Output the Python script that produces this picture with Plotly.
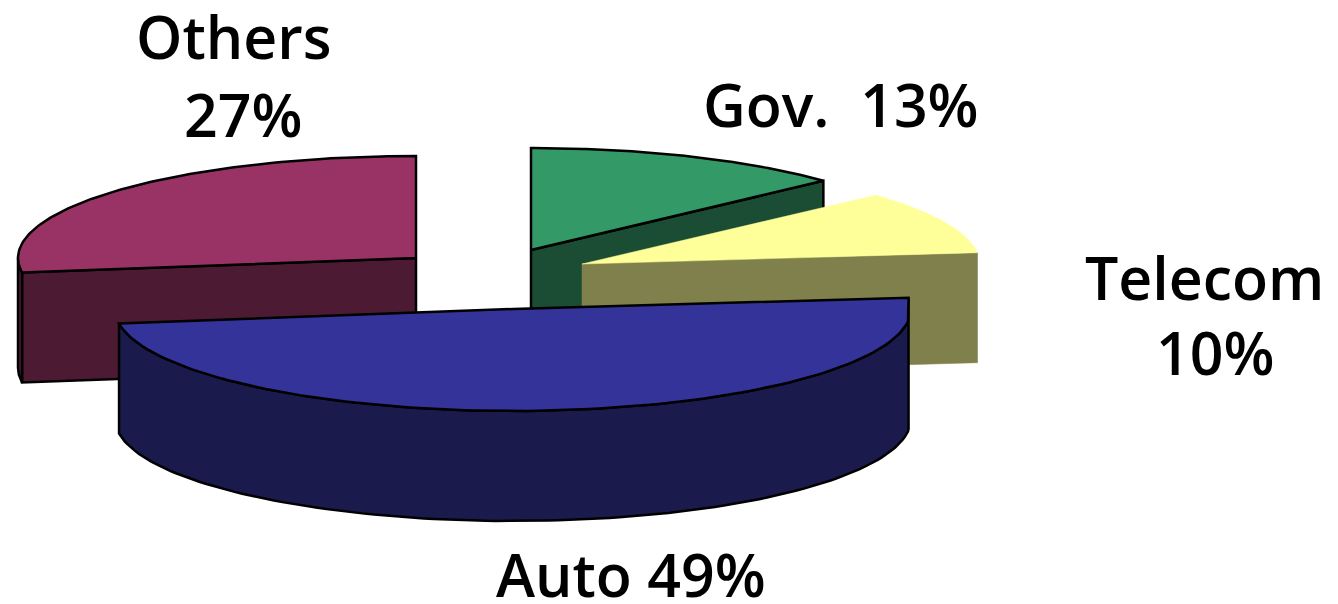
import numpy as np
import plotly.graph_objects as go

# Data
categories = ["Gov.", "Telecom", "Auto", "Others"]
values = [13, 10, 49, 27]

# Style
top_colors = ["#339966", "#FFFF99", "#333399", "#993366"]
side_colors = ["#1A4D33", "#80804D", "#1A1A4D", "#4D1A33"]
outline = [True, False, True, True]

# Projection of the exploded pie onto the page
RX, RY, DEPTH = 398, 102, 110
PIE_X, PIE_Y = 500, 270
explode_x = [31, 82, 13, -84]
explode_y = [-20, -6, 39, -12]
LABEL_FONT = dict(family="Open Sans", size=59, color="black", weight=600)

fractions = np.array(values) / sum(values)
ends = 90 - 360 * np.cumsum(fractions)
starts = ends + 360 * fractions


def arc(cx, cy, a0, a1, dz=0.0):
    t = np.radians(np.linspace(a0, a1, 120))
    return cx + RX * np.cos(t), cy - RY * np.sin(t) + dz


def poly(xs, ys, fill, line, name):
    return go.Scatter(
        x=np.append(xs, xs[0]), y=np.append(ys, ys[0]), mode="lines", fill="toself",
        fillcolor=fill, name=name, hoverinfo="name",
        line=dict(color="black" if line else fill, width=2.5 if line else 0.5),
    )


def wall(x0, y0, x1, y1):
    return np.array([x0, x1, x1, x0]), np.array([y0, y1, y1 + DEPTH, y0 + DEPTH])


fig = go.Figure()
for i in [3, 0, 1, 2]:
    name, a0, a1 = categories[i], starts[i], ends[i]
    cx, cy = PIE_X + explode_x[i], PIE_Y + explode_y[i]
    ax, ay = arc(cx, cy, a0, a1)

    if name == "Auto":
        # outer rim, kept inside the straight right-hand edge of the slice
        xmax = ax[0]
        ax = np.minimum(ax, xmax)
        bx, by = arc(cx, cy, a0, a1, DEPTH)
        bx = np.minimum(bx, xmax)
        fig.add_trace(poly(np.r_[ax, bx[::-1]], np.r_[ay, by[::-1]], side_colors[i], outline[i], name))
    elif name == "Others":
        # cut face runs to the arc's start; a sliver of rim shows at the far left
        wx, wy = wall(cx, cy, ax[0], ay[0])
        fig.add_trace(poly(wx, wy, side_colors[i], outline[i], name))
        rx, ry = arc(cx, cy, 180, 360 + a0)
        bx, by = arc(cx, cy, 180, 360 + a0, DEPTH)
        fig.add_trace(poly(np.r_[rx, bx[::-1]], np.r_[ry, by[::-1]], side_colors[i], outline[i], name))
    else:
        wx, wy = wall(cx, cy, ax[-1], ay[-1])
        fig.add_trace(poly(wx, wy, side_colors[i], outline[i], name))

    fig.add_trace(poly(np.r_[cx, ax], np.r_[cy, ay], top_colors[i], outline[i], name))

labels = [
    ("Others", 233, 36), (f"{values[3]}%", 243, 114),
    (f"Gov.\u00a0 {values[0]}%", 841, 104),
    ("Telecom", 1204, 277), (f"{values[1]}%", 1215, 352),
    (f"Auto {values[2]}%", 631, 574),
]
for text, x, y in labels:
    fig.add_annotation(x=x, y=y, text=text, showarrow=False, font=LABEL_FONT, xanchor="center", yanchor="middle")

fig.update_layout(
    width=1338, height=604, margin=dict(l=0, r=0, t=0, b=0),
    paper_bgcolor="white", plot_bgcolor="white", showlegend=False,
    xaxis=dict(range=[0, 1338], visible=False, fixedrange=True),
    yaxis=dict(range=[604, 0], visible=False, fixedrange=True),
)
fig.write_html("out.html", config=dict(displayModeBar=False), post_script="document.body.style.margin='0';")
